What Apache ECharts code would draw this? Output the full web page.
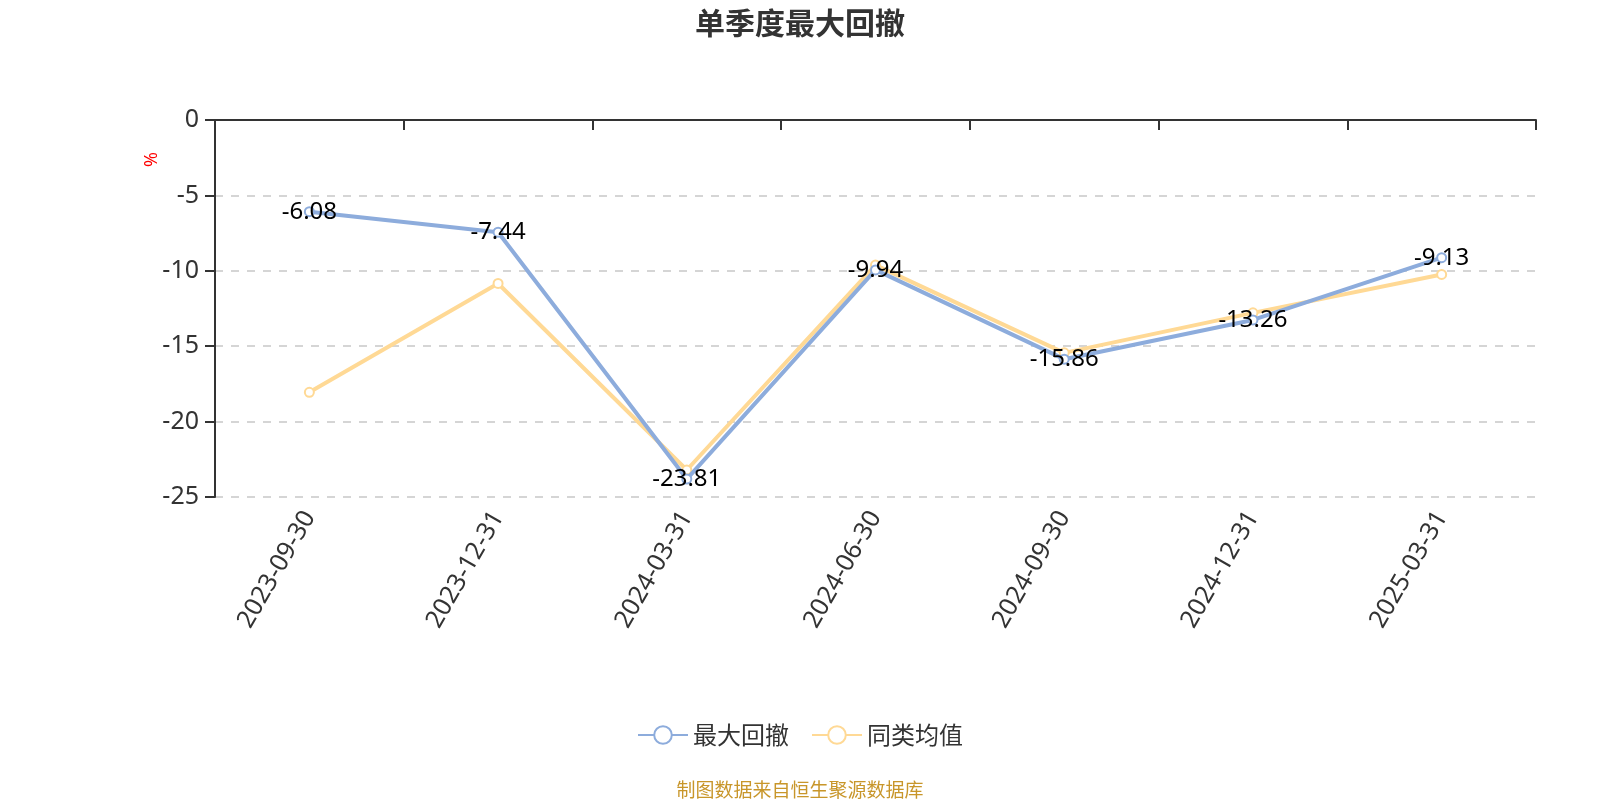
<!DOCTYPE html>
<html><head><meta charset="utf-8">
<script src="https://cdn.jsdelivr.net/npm/echarts@6/dist/echarts.min.js"></script>
<style>html,body{margin:0;padding:0;background:#fff}#c{width:1600px;height:800px}</style>
</head><body><div id="c"></div>
<script>
const categories = ['2023-09-30','2023-12-31','2024-03-31','2024-06-30','2024-09-30','2024-12-31','2025-03-31'];
const maxDrawdown = [-6.08, -7.44, -23.81, -9.94, -15.86, -13.26, -9.13];
const peerAverage = [-18.06, -10.84, -23.21, -9.62, -15.44, -12.79, -10.24];
const yTicks = {min: -25, max: 0, interval: 5};

const font = '"Noto Sans", "Noto Sans CJK SC", sans-serif';
const chart = echarts.init(document.getElementById('c'));
chart.setOption({
  animation: false,
  textStyle: {fontFamily: font},
  title: {text: '单季度最大回撤', left: 'center', top: 3,
    textStyle: {fontSize: 30, fontWeight: 'bold', color: '#333', fontFamily: '"Noto Sans CJK SC", sans-serif'}},
  grid: {left: 215, right: 64, top: 120, bottom: 303},
  legend: {bottom: 48, itemWidth: 50, itemHeight: 22, itemGap: 22,
    textStyle: {fontSize: 24, color: '#333', fontFamily: '"Noto Sans CJK SC", sans-serif'},
    data: ['最大回撤', '同类均值']},
  xAxis: {type: 'category', data: categories, boundaryGap: true,
    axisLine: {lineStyle: {color: '#333', width: 2}},
    axisTick: {show: true, inside: true, length: -10, lineStyle: {width: 2, color: '#333'}},
    axisLabel: {rotate: 60, fontSize: 25, color: '#333', margin: 16, fontFamily: font}},
  yAxis: {type: 'value', min: yTicks.min, max: yTicks.max, interval: yTicks.interval,
    axisLine: {show: true, lineStyle: {color: '#333', width: 2}},
    axisTick: {show: true, length: 10, lineStyle: {width: 2}},
    axisLabel: {fontSize: 25, color: '#333', margin: 16, fontFamily: font},
    splitLine: {lineStyle: {type: [8, 8], color: '#c8c8c8', width: 1.5}}},
  graphic: [
    {type: 'text', left: 143, top: 152, rotation: Math.PI / 2,
      style: {text: '%', fill: '#ff0000', fontSize: 18, fontFamily: font}},
    {type: 'text', left: 'center', top: 780,
      style: {text: '制图数据来自恒生聚源数据库', fill: '#c8962a', fontSize: 19, fontFamily: '"Noto Sans CJK SC", sans-serif'}}
  ],
  series: [
    {name: '最大回撤', type: 'line', data: maxDrawdown, symbol: 'emptyCircle', symbolSize: 9,
      lineStyle: {width: 4, color: '#8DACDC'}, itemStyle: {color: '#8DACDC', borderWidth: 2},
      label: {show: true, position: 'inside', fontSize: 24, color: '#000', fontFamily: font}, z: 3},
    {name: '同类均值', type: 'line', data: peerAverage, symbol: 'emptyCircle', symbolSize: 9,
      lineStyle: {width: 4, color: '#FFD995'}, itemStyle: {color: '#FFD995', borderWidth: 2}, z: 2}
  ]
});
</script></body></html>
